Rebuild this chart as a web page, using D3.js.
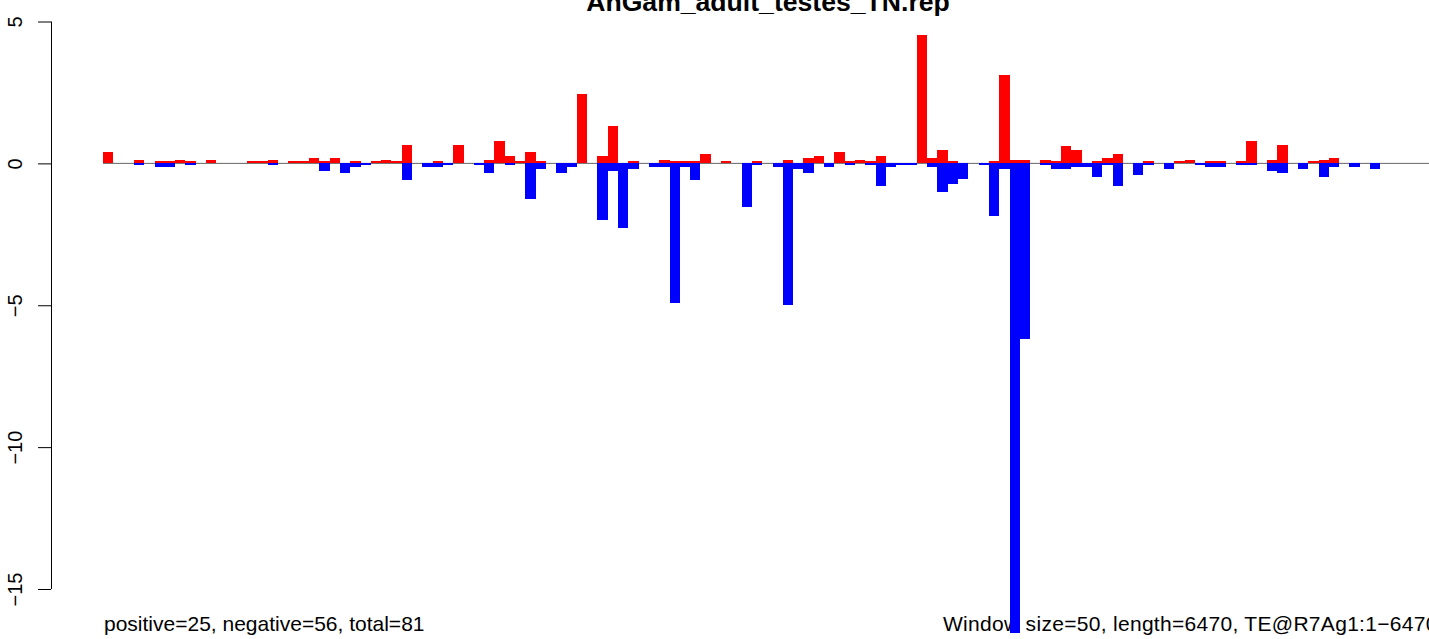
<!DOCTYPE html>
<html>

<head>
    <meta charset="utf-8">
    <script src="https://d3js.org/d3.v7.min.js"></script>
    <style>
        body { margin: 0; background: #fff; }
        svg { display: block; font-family: "Liberation Sans", Arial, sans-serif; }
    </style>
</head>

<body>
    <script>
        // window counts, one entry per 50bp window (130 windows over 6470bp)
        const windowSize = 50;
        const seqLength = 6470;

        const positive = [
            0.39, 0, 0, 0.11, 0, 0.07, 0.07, 0.11, 0.07, 0,
            0.11, 0, 0, 0, 0.07, 0.07, 0.11, 0, 0.07, 0.07,
            0.18, 0.07, 0.18, 0, 0.07, 0, 0.07, 0.11, 0.07, 0.64,
            0, 0, 0.07, 0, 0.64, 0, 0, 0.11, 0.78, 0.25,
            0.07, 0.39, 0.07, 0, 0, 0, 2.45, 0, 0.25, 1.32,
            0, 0.07, 0, 0, 0.11, 0.07, 0.07, 0.07, 0.32, 0,
            0.07, 0, 0, 0.07, 0, 0, 0.11, 0, 0.18, 0.25,
            0, 0.39, 0.07, 0.11, 0.07, 0.25, 0, 0, 0, 4.53,
            0.18, 0.46, 0.07, 0, 0, 0, 0.07, 3.12, 0.11, 0.11,
            0, 0.11, 0.07, 0.6, 0.46, 0, 0.07, 0.18, 0.32, 0,
            0, 0.07, 0, 0, 0.07, 0.11, 0, 0.07, 0.07, 0,
            0.07, 0.78, 0, 0.11, 0.63, 0, 0, 0.07, 0.11, 0.18,
            0, 0, 0, 0, 0, 0, 0, 0, 0, 0
        ];

        const negative = [
            0, 0, 0, -0.06, 0, -0.13, -0.13, 0, -0.06, 0,
            0, 0, 0, 0, 0, 0, -0.06, 0, 0, 0,
            0, -0.27, 0, -0.34, -0.13, -0.06, 0, 0, 0, -0.6,
            0, -0.13, -0.13, -0.06, 0, 0, -0.06, -0.34, 0, -0.06,
            0, -1.26, -0.2, 0, -0.34, -0.13, 0, 0, -2.0, -0.26,
            -2.27, -0.2, 0, -0.13, -0.13, -4.92, -0.13, -0.6, 0, 0,
            0, 0, -1.54, -0.06, 0, -0.13, -4.99, -0.2, -0.34, 0,
            -0.13, 0, -0.06, 0, -0.06, -0.8, -0.13, -0.06, -0.06, 0,
            -0.13, -1.02, -0.73, -0.55, 0, -0.06, -1.85, -0.2, -16.55, -6.18,
            0, -0.06, -0.2, -0.2, -0.13, -0.13, -0.48, -0.06, -0.8, 0,
            -0.41, -0.06, 0, -0.2, 0, 0, -0.06, -0.13, -0.13, 0,
            -0.06, -0.06, 0, -0.27, -0.34, 0, -0.2, 0, -0.48, -0.13,
            0, -0.13, 0, -0.2, 0, 0, 0, 0, 0, 0
        ];

        const yTicks = [5, 0, -5, -10, -15];
        const chartTitle = "AnGam_adult_testes_TN.rep";
        const leftNote = "positive=25, negative=56, total=81";
        const rightNote = "Window size=50, length=6470, TE@R7Ag1:1\u22126470";

        let width = 1429,
            height = 639;

        let svg = d3.select("body").append("svg")
            .attr("width", width)
            .attr("height", height);

        let x = d3.scaleLinear()
            .domain([0, seqLength])
            .range([103, 1436]);

        let y = d3.scaleLinear()
            .domain([5, -15])
            .range([21.5, 589]);

        let bins = positive.map((p, i) => ({ start: i * windowSize, pos: p, neg: negative[i] }));

        // zero line
        svg.append("line")
            .attr("x1", x(0))
            .attr("x2", x(seqLength))
            .attr("y1", y(0))
            .attr("y2", y(0))
            .attr("stroke", "#666")
            .attr("stroke-width", 1);

        // bottom notes
        svg.append("text")
            .attr("x", 104)
            .attr("y", 631)
            .attr("font-size", "21px")
            .text(leftNote);

        svg.append("text")
            .attr("x", 943)
            .attr("y", 631)
            .attr("font-size", "21px")
            .attr("letter-spacing", "0.3px")
            .text(rightNote);

        svg.append("g")
            .selectAll("rect")
            .data(bins.filter(d => d.pos > 0))
            .join("rect")
                .attr("x", d => x(d.start))
                .attr("width", d => x(d.start + windowSize) - x(d.start))
                .attr("y", d => y(d.pos))
                .attr("height", d => y(0) - y(d.pos))
                .attr("fill", "#ff0000")
                .attr("shape-rendering", "crispEdges");

        svg.append("g")
            .selectAll("rect")
            .data(bins.filter(d => d.neg < 0))
            .join("rect")
                .attr("x", d => x(d.start))
                .attr("width", d => x(d.start + windowSize) - x(d.start))
                .attr("y", y(0))
                .attr("height", d => y(d.neg) - y(0))
                .attr("fill", "#0000ff")
                .attr("shape-rendering", "crispEdges");

        // y axis, R style with rotated labels
        let yAxis = svg.append("g")
            .attr("transform", "translate(51,0)")
            .call(d3.axisLeft(y).tickValues(yTicks).tickSize(13).tickFormat(d => String(d).replace("-", "\u2212")));

        yAxis.select(".domain")
            .attr("d", `M0.5,${y(5)}V${y(-15)}`)
            .attr("stroke", "#000");
        yAxis.selectAll(".tick line").attr("stroke", "#000");
        yAxis.selectAll(".tick text")
            .attr("font-size", "20px")
            .attr("font-family", "Liberation Sans, Arial, sans-serif")
            .attr("fill", "#000")
            .attr("x", null)
            .attr("dy", null)
            .attr("text-anchor", "middle")
            .attr("transform", "translate(-29,0) rotate(-90)");

        svg.append("text")
            .attr("x", 768)
            .attr("y", 11)
            .attr("text-anchor", "middle")
            .attr("font-size", "26.6px")
            .attr("font-weight", "bold")
            .text(chartTitle);
    </script>
</body>

</html>
